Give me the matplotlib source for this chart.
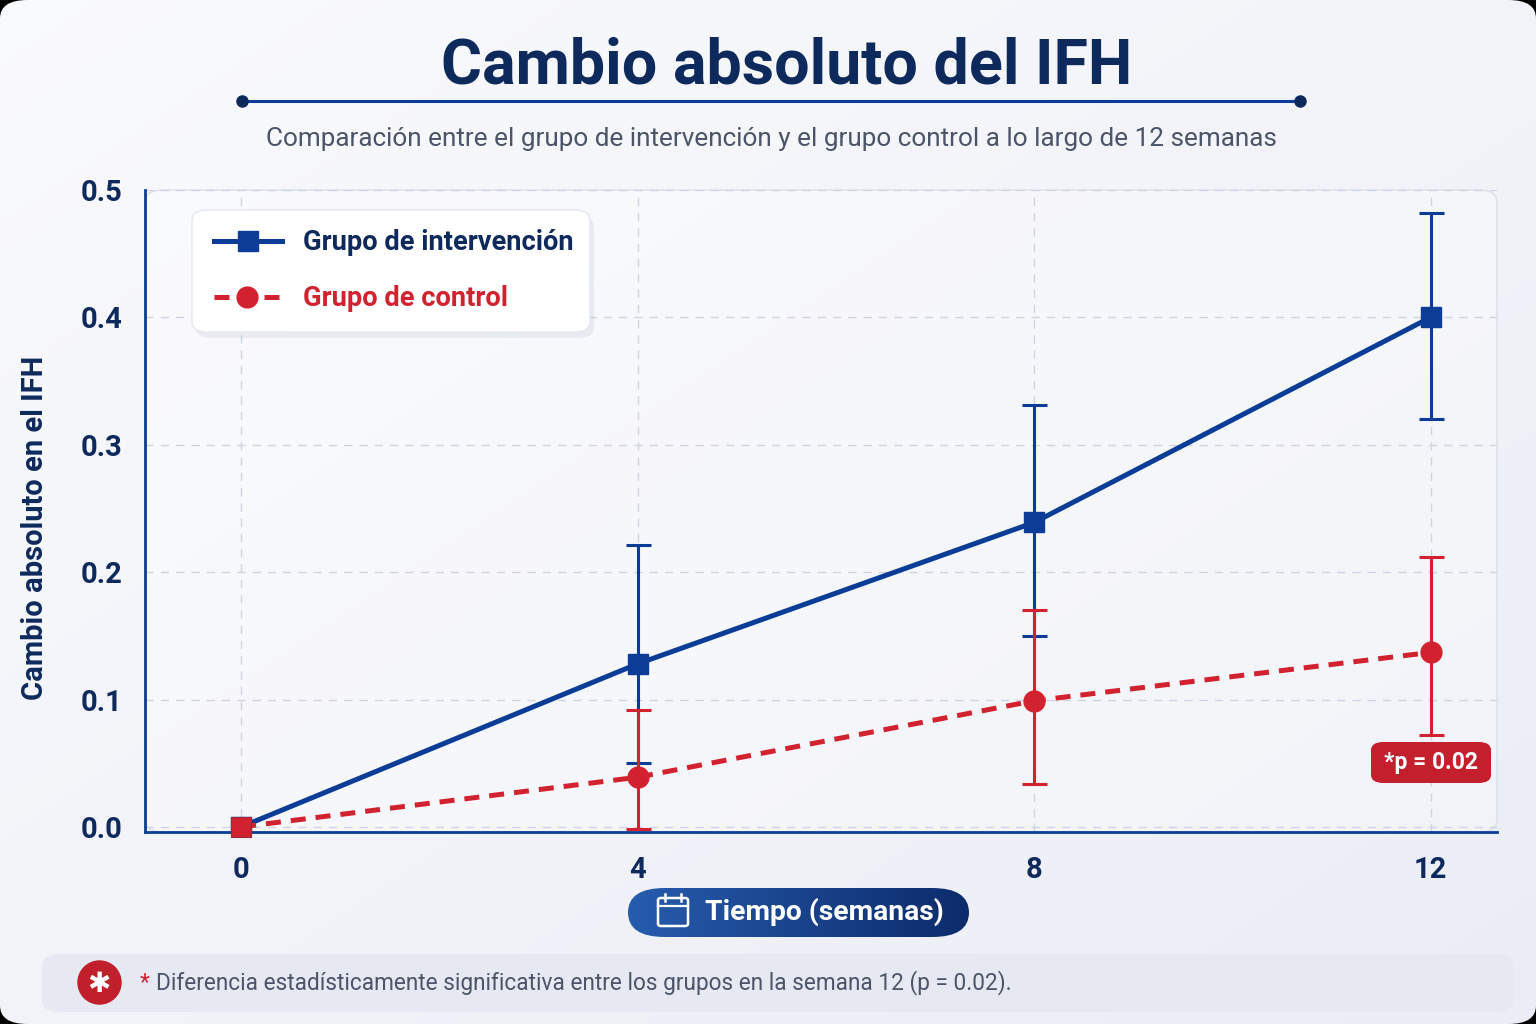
import numpy as np
import matplotlib
matplotlib.use("Agg")
import matplotlib.pyplot as plt
from matplotlib.patches import FancyBboxPatch
from matplotlib.lines import Line2D

plt.rcParams['font.family'] = ['Roboto', 'DejaVu Sans']

# ---------------- data ----------------
weeks = [0, 4, 8, 12]
week_labels = ["0", "4", "8", "12"]
intervention = [0.0, 0.128, 0.239, 0.400]
intervention_low = [0.0, 0.050, 0.150, 0.320]
intervention_high = [0.0, 0.221, 0.331, 0.482]
control = [0.0, 0.039, 0.099, 0.137]
control_low = [0.0, -0.002, 0.034, 0.072]
control_high = [0.0, 0.092, 0.170, 0.212]
y_ticks = [0.0, 0.1, 0.2, 0.3, 0.4, 0.5]

title = "Cambio absoluto del IFH"
subtitle = "Comparación entre el grupo de intervención y el grupo control a lo largo de 12 semanas"
ylabel = "Cambio absoluto en el IFH"
xlabel = "Tiempo (semanas)"
label_int = "Grupo de intervención"
label_ctl = "Grupo de control"
pbadge = "*p = 0.02"
footnote = "Diferencia estadísticamente significativa entre los grupos en la semana 12 (p = 0.02)."

BLUE = "#0b3c96"
NAVY = "#0e2a5c"
RED = "#d3222f"
GRAY = "#4b5468"

W, H = 1536, 1024
fig = plt.figure(figsize=(W / 100, H / 100), dpi=100)
fig.patch.set_facecolor("#000000")

def fx(px):
    return px / W

def fy(py):
    return 1 - py / H

# card background with gradient
bg = fig.add_axes([0, 0, 1, 1], zorder=-10)
bg.set_axis_off()
grad = np.linspace(0, 1, 256)
gx, gy = np.meshgrid(grad, grad)
c1 = np.array([0.98, 0.982, 0.992])
c2 = np.array([0.92, 0.93, 0.962])
t = (0.5 * gx + 0.5 * gy)[..., None]
img = c1 * (1 - t) + c2 * t
im = bg.imshow(img, extent=[0, 1, 0, 1], aspect='auto', origin='upper')
card = FancyBboxPatch((0.0, 0.0), 1, 1, boxstyle="round,pad=0,rounding_size=0.018",
                      transform=bg.transAxes, facecolor='none', edgecolor='none')
bg.add_patch(card)
im.set_clip_path(card)
bg.set_xlim(0, 1)
bg.set_ylim(0, 1)

# title
fig.text(fx(787), fy(66), title, ha='center', va='center', fontsize=45.2,
         fontweight='bold', color=NAVY)
fig.add_artist(Line2D([fx(242), fx(1300)], [fy(101), fy(101)], color=BLUE, lw=2.2))
for px in (242, 1300):
    fig.add_artist(Line2D([fx(px)], [fy(101)], marker='o', markersize=8, color=NAVY, lw=0))
fig.text(fx(771), fy(139), subtitle, ha='center', va='center', fontsize=18.8, color=GRAY)

# plot panel background
panel = FancyBboxPatch((fx(145), fy(832)), fx(1497 - 145), (832 - 190) / H,
                       boxstyle="round,pad=0,rounding_size=0.012",
                       transform=fig.transFigure, facecolor=(1, 1, 1, 0.35),
                       edgecolor="#dde2ec", lw=1.2, zorder=-5)
fig.add_artist(panel)

ax = fig.add_axes([fx(145), fy(832), fx(1497 - 145), (832 - 190) / H])
ax.set_facecolor('none')
ax.set_xlim(-0.97, 12.67)
ax.set_ylim(-0.004, 0.5)

for s in ('top', 'right'):
    ax.spines[s].set_visible(False)
ax.spines['left'].set_color(BLUE)
ax.spines['bottom'].set_color(BLUE)
ax.spines['left'].set_linewidth(2)
ax.spines['bottom'].set_linewidth(2)

ax.set_xticks(weeks)
ax.set_xticklabels(week_labels)
ax.set_yticks(y_ticks)
ax.set_yticklabels([f"{v:.1f}" for v in y_ticks])
ax.tick_params(axis='both', labelsize=21, colors=NAVY, length=0)
ax.tick_params(axis='y', pad=16)
ax.tick_params(axis='x', pad=17)
for lab in ax.get_xticklabels() + ax.get_yticklabels():
    lab.set_fontweight('bold')
ax.grid(True, color="#cfd5e0", linestyle=(0, (6, 5)), lw=1)

def err(vals, lo, hi):
    v = np.array(vals[1:])
    return [v - np.array(lo[1:]), np.array(hi[1:]) - v]

# intervention
eb1 = ax.errorbar(weeks[1:], intervention[1:], yerr=err(intervention, intervention_low, intervention_high),
                  fmt='none', ecolor=BLUE, elinewidth=2.2, capsize=9, capthick=2.2, zorder=3)
ax.plot(weeks, intervention, color=BLUE, lw=3.6, marker='s', markersize=15,
        zorder=4, label=label_int)
# control
eb2 = ax.errorbar(weeks[1:], control[1:], yerr=err(control, control_low, control_high),
                  fmt='none', ecolor=RED, elinewidth=2.2, capsize=9, capthick=2.2, zorder=5)
for eb in (eb1, eb2):
    for a in eb.lines[1] + eb.lines[2]:
        a.set_clip_on(False)
ax.plot(weeks, control, color=RED, lw=3.6, linestyle=(0, (3, 2)), marker='o',
        markersize=15, markevery=[1, 2, 3], zorder=6)
ax.plot(weeks[:1], control[:1], color=RED, marker='s', markersize=15, lw=0, zorder=7,
        markeredgecolor="#9a2a3a", markeredgewidth=0.8, clip_on=False)

fig.text(fx(35), fy(528), ylabel, ha='center', va='center', rotation=90,
         fontsize=21, fontweight='bold', color=NAVY)

# legend box (custom)
shadow = FancyBboxPatch((fx(196), fy(338)), fx(590 - 192), (332 - 210) / H,
                        boxstyle="round,pad=0,rounding_size=0.01", transform=fig.transFigure,
                        facecolor=(0.5, 0.55, 0.65, 0.12), edgecolor='none', zorder=8)
fig.add_artist(shadow)
lbox = FancyBboxPatch((fx(192), fy(332)), fx(590 - 192), (332 - 210) / H,
                      boxstyle="round,pad=0,rounding_size=0.01", transform=fig.transFigure,
                      facecolor='white', edgecolor='#e3e7ee', lw=1, zorder=9)
fig.add_artist(lbox)
fig.add_artist(Line2D([fx(214), fx(282)], [fy(241), fy(241)], color=BLUE, lw=3.6, zorder=10))
fig.add_artist(Line2D([fx(248)], [fy(241)], color=BLUE, marker='s', markersize=15, lw=0, zorder=11))
fig.add_artist(Line2D([fx(214), fx(282)], [fy(297), fy(297)], color=RED, lw=3.6,
                      linestyle=(0, (3, 2)), zorder=10))
fig.add_artist(Line2D([fx(247)], [fy(297)], color=RED, marker='o', markersize=15, lw=0, zorder=11))
fig.text(fx(303), fy(242), label_int, ha='left', va='center', fontsize=19.6,
         fontweight='bold', color=NAVY, zorder=12)
fig.text(fx(303), fy(298), label_ctl, ha='left', va='center', fontsize=19.6,
         fontweight='bold', color=RED, zorder=12)

# p badge
pb = FancyBboxPatch((fx(1371), fy(783)), fx(1491 - 1371), (783 - 742) / H,
                    boxstyle="round,pad=0,rounding_size=0.008", transform=fig.transFigure,
                    facecolor="#c41f2c", edgecolor='none', zorder=12)
fig.add_artist(pb)
fig.text(fx(1431), fy(763), pbadge, ha='center', va='center', fontsize=16.5,
         fontweight='bold', color='white', zorder=13)

# x label pill with gradient
pill = FancyBboxPatch((fx(628), fy(937)), fx(969 - 628), (937 - 888) / H,
                      boxstyle="round,pad=0,rounding_size=0.024", transform=fig.transFigure,
                      facecolor='none', edgecolor='none', zorder=12)
fig.add_artist(pill)
pg = np.linspace(0, 1, 256)[None, :, None]
p1 = np.array([0.15, 0.36, 0.68])
p2 = np.array([0.05, 0.17, 0.42])
pimg = p1 * (1 - pg) + p2 * pg
pim = bg.imshow(np.repeat(pimg, 4, axis=0), extent=[fx(628), fx(969), fy(937), fy(888)],
                aspect='auto', zorder=12, transform=fig.transFigure)
pim.set_clip_path(pill)
# calendar icon
cx, cy = 673, 912
fig.add_artist(FancyBboxPatch((fx(cx - 15), fy(cy + 14)), fx(30), 28 / H,
                              boxstyle="round,pad=0,rounding_size=0.002",
                              transform=fig.transFigure, facecolor='none',
                              edgecolor='white', lw=1.8, zorder=13))
fig.add_artist(Line2D([fx(cx - 15), fx(cx + 15)], [fy(cy - 6), fy(cy - 6)], color='white', lw=1.6, zorder=13))
for dx in (-8, 8):
    fig.add_artist(Line2D([fx(cx + dx), fx(cx + dx)], [fy(cy - 18), fy(cy - 11)], color='white', lw=1.8, zorder=13))
fig.text(fx(824), fy(912), xlabel, ha='center', va='center', fontsize=20.3,
         fontweight='bold', color='white', zorder=13)

# footnote box
fb = FancyBboxPatch((fx(42), fy(1012)), fx(1514 - 42), (1012 - 954) / H,
                    boxstyle="round,pad=0,rounding_size=0.012", transform=fig.transFigure,
                    facecolor="#e6e9f1", edgecolor='none', zorder=12)
fig.add_artist(fb)
fig.add_artist(Line2D([fx(99)], [fy(982)], marker='o', markersize=31, color="#c0202c",
                      lw=0, zorder=13))
fig.text(fx(99), fy(984), "✱", ha='center', va='center', fontsize=20, color='white',
         fontweight='bold', family=['DejaVu Sans'], zorder=14)
fig.text(fx(140), fy(983), "*", ha='left', va='center', fontsize=16.3, color=RED, zorder=14)
fig.text(fx(156), fy(983), footnote, ha='left', va='center', fontsize=16.3, color=GRAY, zorder=14)

fig.savefig("out.png", dpi=100, facecolor=fig.get_facecolor())
